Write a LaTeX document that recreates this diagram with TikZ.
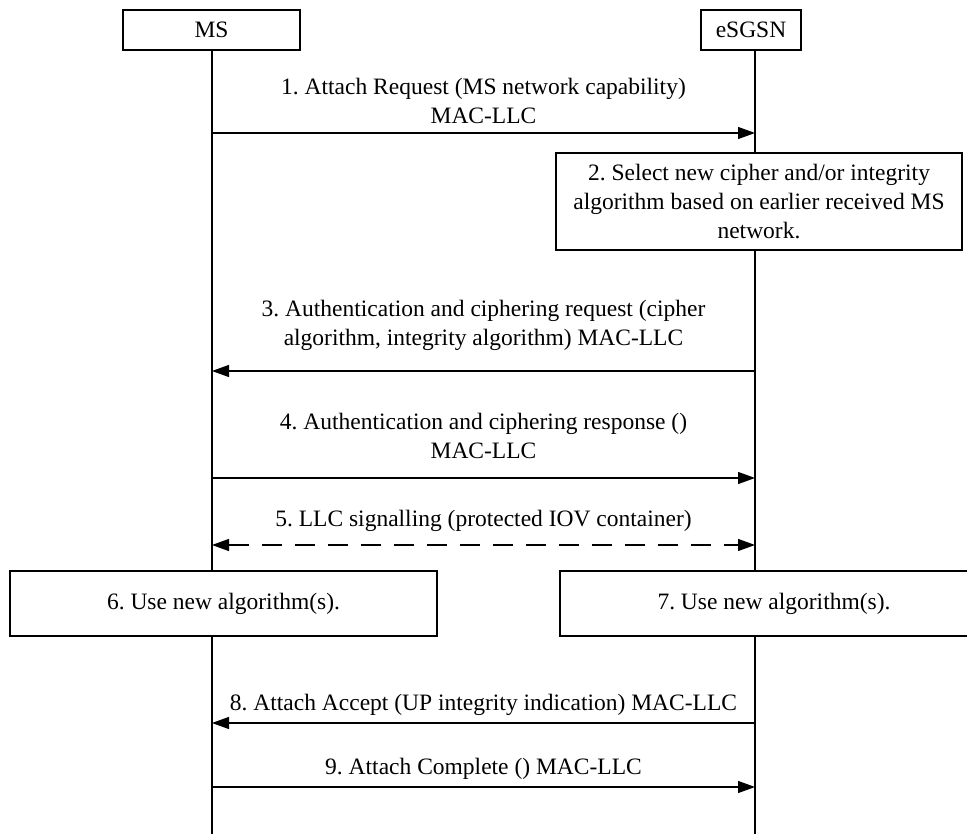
\documentclass[tikz,border=0pt]{standalone}
\usepackage{fontspec}
\setmainfont{Liberation Serif}
\usetikzlibrary{arrows.meta}
\begin{document}
\frenchspacing
\begin{tikzpicture}[x=1pt,y=-1pt,
  every node/.style={font=\fontsize{23.5}{29}\selectfont},
  actor/.style={draw, line width=1.2pt, fill=white, inner sep=0pt, minimum height=40pt},
  stepbox/.style={draw, line width=1.2pt, fill=white, inner sep=0pt, align=center},
  lbl/.style={align=center, inner sep=0pt},
  life/.style={line width=1.2pt},
  msg/.style={line width=1.2pt, -{Triangle[length=17pt,width=12pt]}},
  dmsg/.style={line width=1.2pt, {Triangle[length=17pt,width=12pt]}-{Triangle[length=17pt,width=12pt]}, dash pattern=on 20pt off 13pt}
]
\useasboundingbox (0,0) rectangle (967,834);
\fill[white] (0,0) rectangle (967,834);
\begin{scope}
\clip (0,0) rectangle (967,834);
% lifelines
\coordinate (mstop) at (212,50);
\coordinate (msbot) at (212,834);
\coordinate (sgtop) at (755,50);
\coordinate (sgbot) at (755,834);
\draw[life] (mstop) -- (msbot);
\draw[life] (sgtop) -- (sgbot);
% actors
\node[actor, minimum width=177pt] (ms) at (211.5,30) {MS};
\node[actor, minimum width=100pt] (sg) at (751,30) {eSGSN};
% message 1
\coordinate (m1a) at (212,133);
\coordinate (m1b) at (755,133);
\node[lbl] (l1) at (483.5,101) {1. Attach Request (MS network capability)\\MAC-LLC};
\draw[msg] (m1a) -- (m1b);
% box 2
\node[stepbox, minimum width=406pt, minimum height=97pt] (b2) at (759,201.5)
  {2. Select new cipher and/or integrity\\algorithm based on earlier received MS\\network.};
% message 3
\coordinate (m3a) at (755,371);
\coordinate (m3b) at (212,371);
\node[lbl] (l3) at (483.5,325) {3. Authentication and ciphering request (cipher\\algorithm, integrity algorithm) MAC-LLC};
\draw[msg] (m3a) -- (m3b);
% message 4
\coordinate (m4a) at (212,478);
\coordinate (m4b) at (755,478);
\node[lbl] (l4) at (483.5,436) {4. Authentication and ciphering response ()\\MAC-LLC};
\draw[msg] (m4a) -- (m4b);
% message 5
\coordinate (m5a) at (212,545);
\coordinate (m5b) at (755,545);
\node[lbl] (l5) at (483.5,521) {5. LLC signalling (protected IOV container)};
\draw[dmsg] (m5a) -- (m5b);
% boxes 6 and 7
\node[stepbox, minimum width=427pt, minimum height=65pt] (b6) at (223.5,603.5) {6. Use new algorithm(s).};
\node[stepbox, minimum width=440pt, minimum height=65pt] (b7) at (780,603.5) {\hspace*{-12pt}7. Use new algorithm(s).};
% message 8
\coordinate (m8a) at (755,723);
\coordinate (m8b) at (212,723);
\node[lbl] (l8) at (483.5,705) {8. Attach Accept (UP integrity indication) MAC-LLC};
\draw[msg] (m8a) -- (m8b);
% message 9
\coordinate (m9a) at (212,787);
\coordinate (m9b) at (755,787);
\node[lbl] (l9) at (483.5,769) {9. Attach Complete () MAC-LLC};
\draw[msg] (m9a) -- (m9b);
\end{scope}
\end{tikzpicture}
\end{document}
